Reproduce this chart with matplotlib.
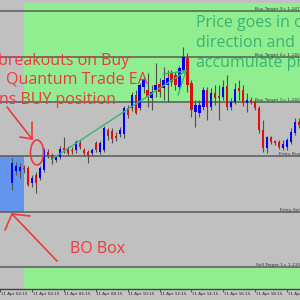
import matplotlib
matplotlib.use("Agg")
import matplotlib.pyplot as plt
from matplotlib.lines import Line2D
from matplotlib.patches import Rectangle, Ellipse
from matplotlib.transforms import blended_transform_factory

# ---- data (price in chart points) ----
opens  = [117,129,129,132,132,117,125,122,130,148,145,140,143,152,152,150,150,157,150,148,147,157,148,150,
          170,169,164,166,166,192,192,205,192,213,210,202,210,216,212,215,227,225,213,230,242,217,188,187,
          193,210,193,207,204,203,214,193,198,212,210,197,200,198,192,170,152,163,159,158,152,153,158,167,178]
highs  = [142,138,137,135,134,125,128,134,152,151,147,145,154,163,154,153,160,160,152,150,152,159,159,174,
          172,172,168,173,194,195,208,210,217,223,227,215,237,222,233,230,230,228,234,253,247,220,200,200,
          213,213,212,215,215,220,225,202,217,220,215,207,203,200,194,180,164,164,160,160,160,162,172,182,182]
lows   = [110,125,122,127,114,113,107,120,128,142,136,138,141,147,145,146,147,151,145,137,144,148,146,148,
          160,157,159,163,162,182,189,186,190,207,193,190,203,203,200,198,214,210,210,228,208,183,173,183,
          190,180,190,195,180,200,190,190,196,200,194,188,196,190,167,148,147,156,155,151,150,150,156,165,172]
closes = [137,134,133,131,115,122,117,132,150,144,140,143,151,150,147,149,158,153,147,145,150,150,157,172,
          164,161,162,170,192,185,205,187,215,220,203,208,215,208,220,222,218,215,232,243,215,190,195,195,
          210,193,207,202,202,213,193,198,211,209,197,200,198,192,170,152,163,158,157,153,156,160,168,178,175]

level_names  = ["Buy Target 3= 1.24730", "Buy Target 2= 1.24510", "Buy Target 1= 1.24290",
                "Entry Buy= 1.24030", "Entry Sell= 1.23760", "Sell Target 1= 1.23500"]
level_values = [289, 243, 198, 144, 88, 33]

tick_pos    = [-3, 5, 13, 21, 29, 37, 45, 53, 61, 69]
tick_labels = ["11 Apr 02:15", "11 Apr 04:15", "11 Apr 06:15", "11 Apr 08:15", "11 Apr 10:15",
               "11 Apr 12:15", "11 Apr 14:15", "11 Apr 16:15", "11 Apr 18:15", "11 Apr 20:15"]

# ---- figure ----
W = H = 300
fig = plt.figure(figsize=(3, 3), dpi=100, facecolor="#c4c4c4")
ax = fig.add_axes([0, 11 / 300, 1, 289 / 300])
ax.set_facecolor("#c0c0c0")
ax.set_xlim(-0.24, 72.22)
ax.set_ylim(11, 300)

def P(x, y):
    return (x / W, 1 - y / H)

# zones
ax.add_patch(Rectangle((2.9, 198), 80, 99, facecolor="#90ee90", edgecolor="none", zorder=0))
ax.add_patch(Rectangle((2.9, 0), 80, 33, facecolor="#90ee90", edgecolor="none", zorder=0))
ax.add_patch(Rectangle((-5, 88), 7.9, 56, facecolor="#6495ed", edgecolor="none", zorder=0))

# level lines
for v in level_values:
    ax.axhline(v, color="#5a5a5a", lw=1.1, zorder=1)

level_label_x = [255, 255, 255, 279, 280, 256]
level_label_y = [9, 55, 100, 154, 210, 265]
for name, lx, ly in zip(level_names, level_label_x, level_label_y):
    fig.text(*P(lx, ly), name, fontsize=3.2, color="#333333", ha="left", va="center")

# candles
idx = list(range(len(opens)))
ax.vlines(idx, lows, highs, color="#505050", lw=0.8, zorder=2)
bottoms = [min(o, c) for o, c in zip(opens, closes)]
heights = [max(abs(c - o), 0.9) for o, c in zip(opens, closes)]
cols = ["#0000ff" if c > o else "#dd1010" for o, c in zip(opens, closes)]
ax.bar(idx, heights, bottom=bottoms, width=0.55, color=cols, edgecolor="none", zorder=3)

# axis styling
for s in ["top", "right", "left"]:
    ax.spines[s].set_visible(False)
ax.spines["bottom"].set_color("#444444")
ax.spines["bottom"].set_linewidth(1.0)
ax.set_yticks([])
ax.set_xticks(tick_pos)
ax.set_xticklabels([])
ax.tick_params(axis="x", direction="out", length=2, pad=1, width=0.6, color="#444444")
tr = blended_transform_factory(ax.transData, fig.transFigure)
for tp, tl in zip(tick_pos, tick_labels):
    ax.text(tp + 0.15, 1 - 293.5 / H, tl, transform=tr, fontsize=3.0, color="#222222",
            ha="left", va="center", clip_on=False)

# annotations
red = "#ec3a3e"
green = "#3cb371"
fnt = "Open Sans"
fs = 11.5
fig.text(*P(-2, 61), "breakouts on Buy", fontsize=fs, color=red, family=fnt, va="center")
fig.text(*P(6, 80), "Quantum Trade EA", fontsize=fs, color=red, family=fnt, va="center")
fig.text(*P(-1, 100), "ns BUY position", fontsize=fs, color=red, family=fnt, va="center")
fig.text(*P(70, 249), "BO Box", fontsize=fs, color=red, family=fnt, va="center")
fig.text(*P(196, 23), "Price goes in our", fontsize=fs, color=green, family=fnt, va="center")
fig.text(*P(196, 43), "direction and", fontsize=fs, color=green, family=fnt, va="center")
fig.text(*P(196, 63), "accumulate profit", fontsize=fs, color=green, family=fnt, va="center")

def seg(p0, p1, color, lw):
    a, b = P(*p0), P(*p1)
    fig.add_artist(Line2D([a[0], b[0]], [a[1], b[1]], color=color, lw=lw,
                          transform=fig.transFigure, solid_capstyle="round"))

# red arrow to breakout candle
seg((7, 107), (32, 139), red, 1.2)
seg((20, 137), (32, 139), red, 1.2)
seg((32, 122), (32, 139), red, 1.2)
# red arrow to BO box
seg((57, 261), (12, 214), red, 1.2)
seg((12, 214), (30, 216), red, 1.2)
seg((12, 214), (5, 230), red, 1.2)
# green trend arrow
seg((52, 159), (186, 71), green, 1.0)
seg((163, 74), (186, 71), green, 1.0)
seg((178, 95), (186, 71), green, 1.0)

# red circle
c = P(37, 152.5)
fig.add_artist(Ellipse(c, 13 / W, 25 / H, transform=fig.transFigure,
                       fill=False, edgecolor=red, lw=1.2))

fig.savefig("out.png", dpi=100, facecolor=fig.get_facecolor())
